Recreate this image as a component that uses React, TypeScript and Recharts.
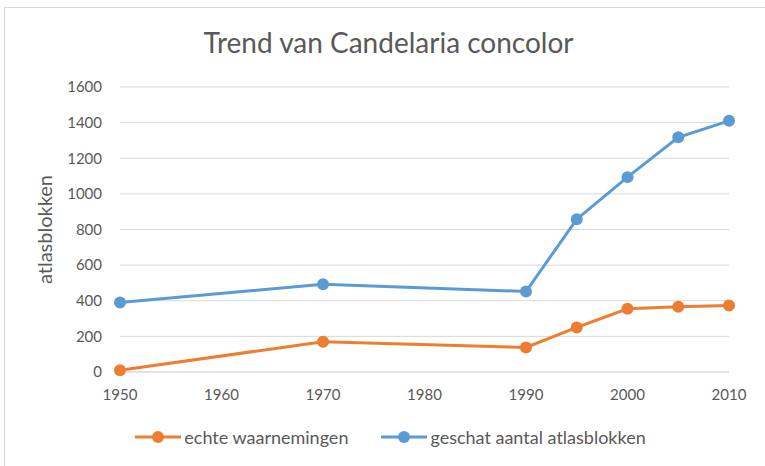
import React from 'react';
import { LineChart, Line, XAxis, YAxis, CartesianGrid, Legend } from 'recharts';

const years = [1950, 1970, 1990, 1995, 2000, 2005, 2010];
const echteWaarnemingen = [10, 170, 138, 250, 355, 366, 373];
const geschatAantal = [390, 492, 452, 858, 1094, 1318, 1410];
const xTicks = [1950, 1960, 1970, 1980, 1990, 2000, 2010];
const yTicks = [0, 200, 400, 600, 800, 1000, 1200, 1400, 1600];

const ORANGE = '#ED7D31';
const BLUE = '#5B9BD5';
const TEXT = '#595959';
const GRID = '#D9D9D9';
const FONT = 'Lato, "Open Sans", sans-serif';

const data = years.map((year, i) => ({
  year,
  echte: echteWaarnemingen[i],
  geschat: geschatAantal[i],
}));

const LegendContent = (props: any) => {
  const { payload } = props;
  return (
    <div style={{ display: 'flex', justifyContent: 'center', fontFamily: FONT, fontSize: 18, color: TEXT, paddingLeft: 16 }}>
      {payload.map((entry: any, i: number) => (
        <div key={i} style={{ display: 'flex', alignItems: 'center', marginRight: i === 0 ? 33 : 0 }}>
          <svg width={46} height={14} style={{ marginRight: 3 }}>
            <line x1={0} y1={7} x2={46} y2={7} stroke={entry.color} strokeWidth={3} />
            <circle cx={23} cy={7} r={6} fill={entry.color} />
          </svg>
          <span>{entry.value}</span>
        </div>
      ))}
    </div>
  );
};

const App: React.FC = () => {
  return (
    <div style={{ position: 'absolute', left: 0, top: 0, width: 765, height: 466, background: '#fff', overflow: 'hidden' }}>
      <div
        style={{
          position: 'absolute',
          left: 4,
          top: 7,
          width: 765,
          height: 470,
          borderTop: '1px solid #D9D9D9',
          borderLeft: '1px solid #D9D9D9',
        }}
      />
      <div
        style={{
          position: 'absolute',
          left: 0,
          top: 25,
          width: 777,
          textAlign: 'center',
          fontFamily: FONT,
          fontSize: 28,
          color: TEXT,
        }}
      >
        Trend van Candelaria concolor
      </div>
      <div style={{ position: 'absolute', left: 0, top: 0 }}>
        <LineChart width={765} height={466} data={data} margin={{ top: 87, right: 36, left: 0, bottom: 18 }}>
          <CartesianGrid stroke={GRID} vertical={false} />
          <XAxis
            dataKey="year"
            type="number"
            domain={[1950, 2010]}
            ticks={xTicks}
            axisLine={{ stroke: GRID }}
            tickLine={false}
            tickSize={0}
            tickMargin={17}
            height={54}
            tick={{ fill: TEXT, fontSize: 15, fontFamily: FONT }}
            padding={{ left: 0, right: 0 }}
          />
          <YAxis
            domain={[0, 1600]}
            ticks={yTicks}
            axisLine={false}
            tickLine={false}
            tickSize={0}
            tickMargin={18}
            width={120}
            tick={{ fill: TEXT, fontSize: 15, fontFamily: FONT }}
            label={{
              value: 'atlasblokken',
              angle: -90,
              position: 'center',
              dx: -15,
              style: { fill: TEXT, fontSize: 20, fontFamily: FONT, textAnchor: 'middle' },
            }}
          />
          <Legend verticalAlign="bottom" content={<LegendContent />} wrapperStyle={{ left: 0, width: 765 }} />
          <Line
            dataKey="echte"
            name="echte waarnemingen"
            stroke={ORANGE}
            strokeWidth={3}
            dot={{ r: 6, fill: ORANGE, stroke: ORANGE, strokeWidth: 0 }}
            isAnimationActive={false}
          />
          <Line
            dataKey="geschat"
            name="geschat aantal atlasblokken"
            stroke={BLUE}
            strokeWidth={3}
            dot={{ r: 6, fill: BLUE, stroke: BLUE, strokeWidth: 0 }}
            isAnimationActive={false}
          />
        </LineChart>
      </div>
    </div>
  );
};

export default App;
